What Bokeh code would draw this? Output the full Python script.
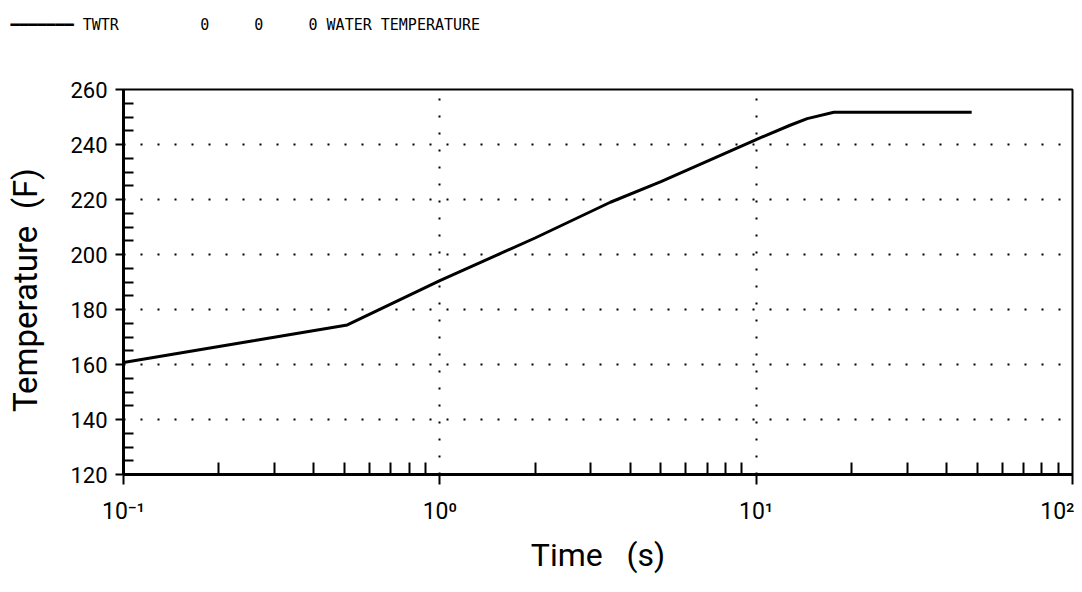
from bokeh.plotting import figure
from bokeh.models import Range1d, FixedTicker, Title
from bokeh.embed import file_html
from bokeh.resources import INLINE

# ---- data ----
time_s = [0.1, 0.26, 0.51, 1.0, 2.0, 3.46, 5.0, 10.0, 12.8, 14.5, 17.6, 48.0]
temp_f = [160.7, 168.7, 174.4, 190.5, 206.0, 219.0, 226.5, 241.8, 247.0, 249.4, 251.7, 251.7]

y_major = [120, 140, 160, 180, 200, 220, 240, 260]
y_minor = [v for v in range(125, 260, 5) if v % 20 != 0]
y_grid = [140, 160, 180, 200, 220, 240]
x_major = [0.1, 1.0, 10.0, 100.0]
x_minor = [m * d for d in (0.1, 1.0, 10.0) for m in range(2, 10)]
x_grid = [1.0, 10.0]
x_labels = {0.1: "10\u207b\u00b9", 1.0: "10\u2070", 10.0: "10\u00b9", 100.0: "10\u00b2"}

legend_name = "TWTR"
legend_cols = ["0", "0", "0 WATER TEMPERATURE"]

FONT = "Roboto"
MONO = "DejaVu Sans Mono"

W, H = 1074, 576
BL, BR, BT, BB = 123, 2, 89, 101

p = figure(width=W, height=H, x_axis_type="log",
           x_range=Range1d(0.1, 100), y_range=Range1d(120, 260),
           toolbar_location=None, output_backend="svg",
           min_border_left=BL, min_border_right=BR, min_border_top=BT, min_border_bottom=BB)
p.background_fill_color = "white"
p.border_fill_color = "white"
p.outline_line_color = "black"
p.outline_line_width = 2

p.line(time_s, temp_f, line_color="black", line_width=3)

ya = p.yaxis[0]
ya.ticker = FixedTicker(ticks=y_major, minor_ticks=y_minor)
ya.axis_line_width = 3
ya.axis_line_color = "black"
ya.major_tick_line_color = "black"
ya.minor_tick_line_color = "black"
ya.major_tick_line_width = 2
ya.minor_tick_line_width = 2
ya.major_tick_out = 8
ya.major_tick_in = 0
ya.minor_tick_in = 10
ya.minor_tick_out = 0
ya.major_label_text_font = FONT
ya.major_label_text_font_size = "22px"
ya.major_label_text_color = "black"
ya.major_label_standoff = 8
ya.axis_label = "Temperature\u00a0\u00a0(F)\u00a0\u00a0"
ya.axis_label_text_font = FONT
ya.axis_label_text_font_style = "normal"
ya.axis_label_text_font_size = "33px"
ya.axis_label_text_color = "black"
ya.axis_label_standoff = 22

xa = p.xaxis[0]
xa.ticker = FixedTicker(ticks=x_major, minor_ticks=x_minor)
xa.major_label_overrides = x_labels
xa.axis_line_width = 3
xa.axis_line_color = "black"
xa.major_tick_line_color = "black"
xa.minor_tick_line_color = "black"
xa.major_tick_line_width = 2
xa.minor_tick_line_width = 2
xa.major_tick_out = 10
xa.major_tick_in = 0
xa.minor_tick_in = 12
xa.minor_tick_out = 0
xa.major_label_text_font = FONT
xa.major_label_text_font_size = "23px"
xa.major_label_text_color = "black"
xa.major_label_standoff = 13
xa.axis_label = "Time\u00a0\u00a0\u00a0(s)"
xa.axis_label_text_font = FONT
xa.axis_label_text_font_style = "normal"
xa.axis_label_text_font_size = "32px"
xa.axis_label_text_color = "black"
xa.axis_label_standoff = 8

p.ygrid.ticker = FixedTicker(ticks=y_grid)
p.xgrid.ticker = FixedTicker(ticks=x_grid)
for g in (p.xgrid[0], p.ygrid[0]):
    g.grid_line_color = "black"
    g.grid_line_width = 2
    g.grid_line_dash = "2 15"
    g.grid_line_alpha = 1.0

# ---- legend row above the frame (monospace, spacing by characters) ----
NB = "\u00a0"
legend_text = ("\u2501" * 7 + NB + legend_name + NB * 9 + legend_cols[0] + NB * 5
               + legend_cols[1] + NB * 5 + legend_cols[2])
p.add_layout(Title(text=NB, text_font_size="35px"), "above")
p.add_layout(Title(text=legend_text, text_font=MONO, text_font_size="15px",
                   text_font_style="normal", text_color="black",
                   align="left", offset=10 - BL), "above")

open("out.html", "w").write(file_html(p, INLINE))
